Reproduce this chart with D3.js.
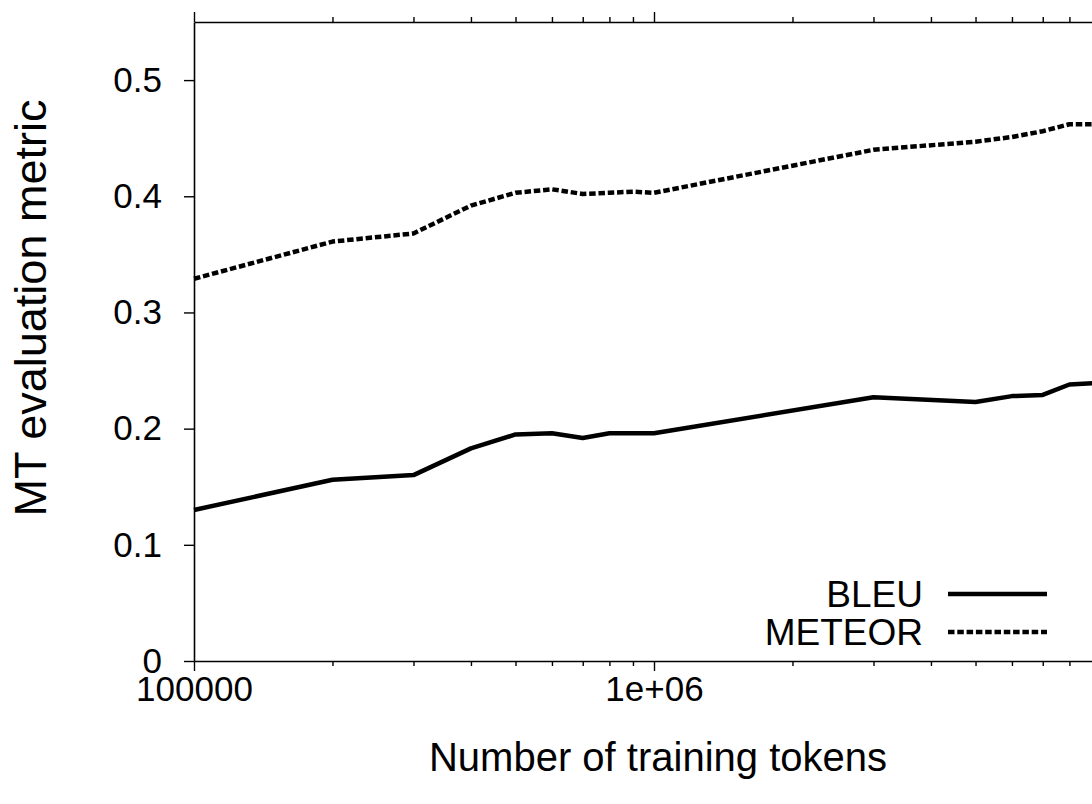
<!DOCTYPE html>
<html>
<head>
<meta charset="utf-8">
<script src="https://cdn.jsdelivr.net/npm/d3@7"></script>
<style>
  body { margin: 0; background: #fff; }
  svg { display: block; font-family: "Liberation Sans", Arial, Helvetica, sans-serif; }
</style>
</head>
<body>
<script>
const width = 1092
const height = 804
const margin = {top: 22, left: 194, bottom: 143}

// training tokens (x) and the two metrics
const tokens = [1e5, 2e5, 3e5, 4e5, 5e5, 6e5, 7e5, 8e5, 9e5, 1e6, 3e6, 5e6, 6e6, 7e6, 8e6, 9e6]
const bleu = [0.130, 0.156, 0.160, 0.183, 0.195, 0.196, 0.192, 0.196, 0.196, 0.196, 0.227, 0.223, 0.228, 0.229, 0.238, 0.239]
const meteor = [0.329, 0.361, 0.368, 0.392, 0.403, 0.406, 0.402, 0.403, 0.404, 0.403, 0.440, 0.447, 0.451, 0.456, 0.462, 0.462]

const seriesNames = ['BLEU', 'METEOR']
const xMajor = [1e5, 1e6, 1e7]
const xMajorLabels = ['100000', '1e+06', '']   // the 1e+07 label falls outside the picture
const yTicks = [0, 0.1, 0.2, 0.3, 0.4, 0.5]
const yTickLabels = ['0', '0.1', '0.2', '0.3', '0.4', '0.5']

const svg = d3.select('body').append('svg')
        .attr('width', width)
        .attr('height', height)

const xScale = d3.scaleLog()
        .domain([1e5, 1e7])
        .range([margin.left, 1114])

const yScale = d3.scaleLinear()
        .domain([0, 0.55])
        .range([height - margin.bottom, margin.top])

const xMinor = xScale.ticks().filter(d => !xMajor.includes(d))
const y0 = yScale(0)

// bottom axis: major ticks with labels, minor ticks without
const bottomAxis = svg.append('g')
        .attr('transform', 'translate(0,' + y0 + ')')
        .call(d3.axisBottom(xScale)
            .tickValues(xMajor)
            .tickSize(10)
            .tickSizeOuter(0)
            .tickPadding(5)
            .tickFormat((d, i) => xMajorLabels[i]))
bottomAxis.append('g')
        .call(d3.axisBottom(xScale).tickValues(xMinor).tickSize(5).tickFormat(''))
        .select('.domain').remove()

// top border with mirrored ticks pointing outward
const topAxis = svg.append('g')
        .attr('transform', 'translate(0,' + margin.top + ')')
        .call(d3.axisTop(xScale).tickValues(xMajor).tickSize(10).tickSizeOuter(0).tickFormat(''))
topAxis.append('g')
        .call(d3.axisTop(xScale).tickValues(xMinor).tickSize(5).tickFormat(''))
        .select('.domain').remove()

// left axis
svg.append('g')
        .attr('class', 'y-axis')
        .attr('transform', 'translate(' + margin.left + ',0)')
        .call(d3.axisLeft(yScale)
            .tickValues(yTicks)
            .tickSize(10)
            .tickSizeOuter(0)
            .tickPadding(22)
            .tickFormat((d, i) => yTickLabels[i]))

svg.selectAll('.domain').attr('stroke', '#000').attr('stroke-width', 1.6)
svg.selectAll('.tick line').attr('stroke', '#000').attr('stroke-width', 1.4)
svg.selectAll('.tick text')
        .attr('fill', '#000')
        .style('font-size', '35px')
        .style('font-family', '"Liberation Sans", Arial, Helvetica, sans-serif')

// axis titles
svg.append('text')
        .attr('x', 658)
        .attr('y', 771)
        .attr('text-anchor', 'middle')
        .style('font-size', '40px')
        .text('Number of training tokens')

svg.append('text')
        .attr('transform', 'translate(46,308) rotate(-90)')
        .attr('text-anchor', 'middle')
        .style('font-size', '45px')
        .text('MT evaluation metric')

// data lines
const line = d3.line()
        .x(d => xScale(d[0]))
        .y(d => yScale(d[1]))

const series = [bleu, meteor].map(vals => tokens.map((t, i) => [t, vals[i]]))
const dashes = [null, '6.5,2.8']

svg.selectAll('path.series')
        .data(series)
        .join('path')
        .attr('class', 'series')
        .attr('d', line)
        .attr('fill', 'none')
        .attr('stroke', '#000')
        .attr('stroke-width', 4.5)
        .attr('stroke-linejoin', 'round')
        .attr('stroke-dasharray', (d, i) => dashes[i])

// legend
const legend = svg.append('g')
const rowY = [594, 632]
seriesNames.forEach((name, i) => {
    legend.append('text')
        .attr('x', 923)
        .attr('y', rowY[i])
        .attr('dy', '0.36em')
        .attr('text-anchor', 'end')
        .style('font-size', '37px')
        .text(name)
    legend.append('line')
        .attr('x1', 948)
        .attr('x2', 1047)
        .attr('y1', rowY[i])
        .attr('y2', rowY[i])
        .attr('stroke', '#000')
        .attr('stroke-width', 4.5)
        .attr('stroke-dasharray', dashes[i])
})
</script>
</body>
</html>
